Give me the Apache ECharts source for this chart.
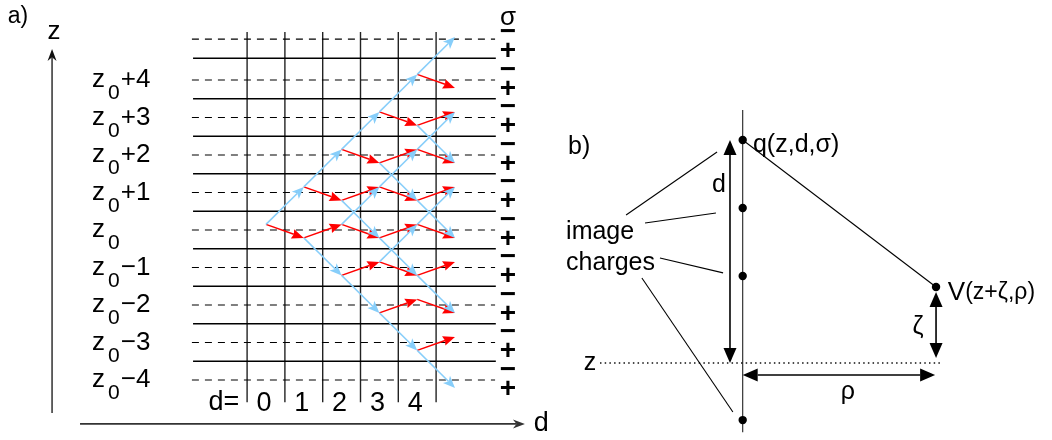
<!DOCTYPE html>
<html>
<head>
<meta charset="utf-8">
<script src="https://cdn.jsdelivr.net/npm/echarts@6/dist/echarts.min.js"></script>
<style>
  html, body { margin: 0; padding: 0; background: #fff; }
  #chart { width: 1052px; height: 440px; }
</style>
</head>
<body>
<div id="chart"></div>
<script>
// ---------------- Panel a: lattice of image charges (d = generation, z = level) ----------------
const dColumns = [0, 1, 2, 3, 4];
const dLabels = ['0', '1', '2', '3', '4'];
const zLevels = [4, 3, 2, 1, 0, -1, -2, -3, -4];
const zLabelSuffix = ['+4', '+3', '+2', '+1', '', '\u22121', '\u22122', '\u22123', '\u22124'];
const sigmaLevels = [5, 4, 3, 2, 1, 0, -1, -2, -3, -4];
const columnBorders = [-0.5, 0.5, 1.5, 2.5, 3.5, 4.5];
const dashedLevels = [5.09, 4, 3, 2, 1, 0, -1, -2, -3, -4];
const solidLevels = [4.58, 3.5, 2.5, 1.5, 0.5, -0.5, -1.5, -2.5, -3.5];

// Transitions [d, z, σ] -> [d, z, σ]; σ = 1 is the upper (−) sub-level, σ = -1 the lower (+) one.
const redSteps = [
  [0, 0, 1, 1, 0, -1],
  [1, 1, 1, 2, 1, -1], [1, 0, -1, 2, 0, 1],
  [2, 2, 1, 3, 2, -1], [2, 1, -1, 3, 1, 1], [2, 0, 1, 3, 0, -1], [2, -1, -1, 3, -1, 1],
  [3, 3, 1, 4, 3, -1], [3, 2, -1, 4, 2, 1], [3, 1, 1, 4, 1, -1], [3, 0, -1, 4, 0, 1],
  [3, -1, 1, 4, -1, -1], [3, -2, -1, 4, -2, 1],
  [4, 4, 1, 5, 4, -1], [4, 3, -1, 5, 3, 1], [4, 2, 1, 5, 2, -1], [4, 1, -1, 5, 1, 1],
  [4, 0, 1, 5, 0, -1], [4, -1, -1, 5, -1, 1], [4, -2, 1, 5, -2, -1], [4, -3, -1, 5, -3, 1]
];
const blueSteps = [
  [0, 0, 1, 1, 1, 1],
  [1, 1, 1, 2, 2, 1], [1, 0, -1, 2, -1, -1],
  [2, 2, 1, 3, 3, 1], [2, 1, -1, 3, 0, -1], [2, 0, 1, 3, 1, 1], [2, -1, -1, 3, -2, -1],
  [3, 3, 1, 4, 4, 1], [3, 2, -1, 4, 1, -1], [3, 1, 1, 4, 2, 1], [3, 0, -1, 4, -1, -1],
  [3, -1, 1, 4, 0, 1], [3, -2, -1, 4, -3, -1],
  [4, 4, 1, 5, 5, 1], [4, 3, -1, 5, 2, -1], [4, 2, 1, 5, 3, 1], [4, 1, -1, 5, 0, -1],
  [4, 0, 1, 5, 1, 1], [4, -1, -1, 5, -2, -1], [4, -3, -1, 5, -4, -1]
];

// ---------------- Panel b: source charge, its images and the field point ----------------
const rodSpan = [11.35, -3.1];
const sourceCharge = [0, 10];
const imageCharges = [[0, 6.95], [0, 3.9], [0, -2.56]];
const fieldPoint = [8.67, 3.41];
const dimensionArrows = [
  [[-0.57, 0], [-0.57, 10]],       // d
  [[8.67, 0.22], [8.67, 3.18]],    // ζ
  [[0, -0.54], [8.63, -0.54]]      // ρ
];
const levelLine = [[-6.4, 0], [8.98, 0]];
const labelLeaders = [
  [[-5.23, 6.64], [-1.15, 9.46]],
  [[-4.38, 6.28], [-1.2, 6.73]],
  [[-3.71, 4.71], [-0.88, 4.04]],
  [[-4.52, 3.81], [-0.44, -2.2]]
];

// ---------------- styling ----------------
const FONT = "'Liberation Sans', Arial, Helvetica, sans-serif";
const RED = '#ff0000';
const BLUE = '#87cefa';
const INK = '#000000';
const SUB_UP = 0.15, SUB_DOWN = -0.21;   // vertical split of the two σ sub-levels
const nodeZ = (z, s) => z + (s > 0 ? SUB_UP : SUB_DOWN);

function headShape(tip, from, o) {
  const dx = tip[0] - from[0], dy = tip[1] - from[1];
  const L = Math.hypot(dx, dy) || 1;
  const ux = dx / L, uy = dy / L, nx = -uy, ny = ux;
  const bx = tip[0] - ux * o.len, by = tip[1] - uy * o.len;
  const nb = o.len * (1 - o.notch);
  return {
    type: 'polygon',
    shape: { points: [tip, [bx + nx * o.half, by + ny * o.half],
                      [tip[0] - ux * nb, tip[1] - uy * nb], [bx - nx * o.half, by - ny * o.half]] },
    style: { fill: o.color, stroke: null }
  };
}

function arrowGroup(api, a, b, o) {
  const p0 = api.coord(a), p1 = api.coord(b);
  const L = Math.hypot(p1[0] - p0[0], p1[1] - p0[1]) || 1;
  const ux = (p1[0] - p0[0]) / L, uy = (p1[1] - p0[1]) / L;
  const back = o.len * (1 - o.notch);
  const e = [p1[0] - ux * back, p1[1] - uy * back];
  const s = o.both ? [p0[0] + ux * back, p0[1] + uy * back] : p0;
  const children = [
    { type: 'line', shape: { x1: s[0], y1: s[1], x2: e[0], y2: e[1] },
      style: { stroke: o.color, lineWidth: o.width, lineCap: 'butt' } },
    headShape(p1, p0, o)
  ];
  if (o.both) children.push(headShape(p0, p1, o));
  return { type: 'group', children };
}

function overlay(axis, items, draw, z) {
  return {
    type: 'custom', coordinateSystem: 'cartesian2d',
    xAxisIndex: axis, yAxisIndex: axis,
    silent: true, animation: false, clip: false, z: z,
    data: items.map((_, i) => [0, 0, i]),
    renderItem: (params, api) => draw(items[params.dataIndex], api)
  };
}

const drawSegment = (it, api) => {
  const p0 = api.coord(it.a), p1 = api.coord(it.b);
  return { type: 'line', shape: { x1: p0[0], y1: p0[1], x2: p1[0], y2: p1[1] },
           style: { stroke: it.color || INK, lineWidth: it.width || 1, lineDash: it.dash || null } };
};
const drawText = (it, api) => {
  const p = api.coord(it.at);
  const style = {
    text: it.text, fill: INK, font: (it.weight || 'normal') + ' ' + (it.size || 25) + 'px ' + FONT,
    align: it.align || 'center', verticalAlign: 'middle'
  };
  if (it.rich) style.rich = it.rich;
  return { type: 'text', x: p[0] + (it.dx || 0), y: p[1] + (it.dy || 0), style };
};
const drawDot = (it, api) => {
  const p = api.coord(it);
  return { type: 'circle', shape: { cx: p[0], cy: p[1], r: 4.2 }, style: { fill: INK } };
};

// ---------------- panel a items ----------------
const latticeLines = [];
columnBorders.forEach(d => latticeLines.push({ a: [d, 5.28], b: [d, -4.59], color: '#222', width: 1.4 }));
solidLevels.forEach(z => latticeLines.push({ a: [-1.93, z], b: [6.08, z], width: 1.3 }));
dashedLevels.forEach(z => latticeLines.push({ a: [-1.96, z], b: [6.06, z], width: 1.2, dash: [7, 6] }));

const toNodes = s => ({ a: [s[0], nodeZ(s[1], s[2])], b: [s[3], nodeZ(s[4], s[5])] });
const redArrows = redSteps.map(toNodes);
const blueArrows = blueSteps.map(toNodes);

const axisArrows = [
  { a: [-5.66, -4.88], b: [-5.66, 4.83], width: 1.3, color: '#111' },
  { a: [-4.92, -5.17], b: [6.85, -5.17], width: 1.8, color: '#333' }
];

const richLabel = {
  m: { fontSize: 26, fontFamily: FONT, lineHeight: 48, verticalAlign: 'middle', fill: INK },
  s: { fontSize: 21, fontFamily: FONT, lineHeight: 20, verticalAlign: 'bottom', fill: INK, padding: [0, 1, 0, 3] }
};
const panelATexts = [
  { at: [-6.83, 5.68], text: 'a)', align: 'left', size: 23 },
  { at: [-5.61, 5.28], text: 'z', size: 26 },
  { at: [7.28, -5.15], text: 'd', size: 27 },
  { at: [6.4, 5.65], text: '\u03c3', size: 26 },
  { at: [-0.71, -4.61], text: 'd=', align: 'right', size: 27 }
];
dColumns.forEach((d, i) => panelATexts.push({ at: [d, -4.63], text: dLabels[i], size: 27, dx: -2 }));
zLevels.forEach((z, i) => panelATexts.push({
  at: [-4.6, z], text: '{m|z}{s|0}' + (zLabelSuffix[i] ? '{m|' + zLabelSuffix[i] + '}' : ''),
  align: 'left', rich: richLabel
}));
sigmaLevels.forEach(z => {
  panelATexts.push({ at: [6.4, z + 0.27], text: '\u2212', size: 28, weight: 'bold' });
  panelATexts.push({ at: [6.4, z - 0.24], text: '+', size: 28, weight: 'bold' });
});

// ---------------- panel b items ----------------
const panelBLines = [
  { a: [0, rodSpan[0]], b: [0, rodSpan[1]], width: 1.1, color: '#222' },
  { a: sourceCharge, b: fieldPoint, width: 1.1 },
  { a: levelLine[0], b: levelLine[1], width: 1.5, dash: [1.5, 3.2], color: '#111' }
].concat(labelLeaders.map(l => ({ a: l[0], b: l[1], width: 1.1 })));

const panelBArrows = dimensionArrows.map(d => ({ a: d[0], b: d[1] }));
const panelBDots = [sourceCharge].concat(imageCharges, [fieldPoint]);
const panelBTexts = [
  { at: [-7.83, 9.69], text: 'b)', align: 'left' },
  { at: [0.46, 9.78], text: 'q(z,d,\u03c3)', align: 'left' },
  { at: [9.2, 3.14], text: '{v|V}{r|(z+\u03b6,\u03c1)}', align: 'left',
    rich: { v: { fontSize: 26, fontFamily: FONT, fill: INK }, r: { fontSize: 23, fontFamily: FONT, fill: INK } } },
  { at: [-7.92, 5.87], text: 'image', align: 'left' },
  { at: [-7.92, 4.48], text: 'charges', align: 'left' },
  { at: [-1.06, 7.98], text: 'd' },
  { at: [-6.85, 0], text: 'z' },
  { at: [7.86, 1.61], text: '\u03b6' },
  { at: [4.72, -1.3], text: '\u03c1' }
];

// ---------------- chart ----------------
const hidden = { show: false, splitLine: { show: false } };
const chart = echarts.init(document.getElementById('chart'), null, { renderer: 'canvas' });
chart.setOption({
  backgroundColor: '#ffffff',
  animation: false,
  grid: [
    { left: 39.2, top: 5, width: 529.2, height: 431.25 },     // panel a: 37.8 px per d, 37.5 px per z
    { left: 519.7, top: 6.2, width: 512.9, height: 423.7 }    // panel b: 22.3 px per unit
  ],
  xAxis: [
    Object.assign({ type: 'value', gridIndex: 0, min: -6, max: 8 }, hidden),
    Object.assign({ type: 'value', gridIndex: 1, min: -10, max: 13 }, hidden)
  ],
  yAxis: [
    Object.assign({ type: 'value', gridIndex: 0, min: -5.5, max: 6 }, hidden),
    Object.assign({ type: 'value', gridIndex: 1, min: -3, max: 16 }, hidden)
  ],
  series: [
    overlay(0, latticeLines, drawSegment, 1),
    overlay(0, redArrows, (it, api) => arrowGroup(api, it.a, it.b,
      { color: RED, width: 1.5, len: 12, half: 5, notch: 0.12 }), 3),
    overlay(0, blueArrows, (it, api) => arrowGroup(api, it.a, it.b,
      { color: BLUE, width: 1.5, len: 12, half: 5, notch: 0.25 }), 4),
    overlay(0, axisArrows, (it, api) => arrowGroup(api, it.a, it.b,
      { color: it.color, width: it.width, len: 12, half: 4.5, notch: 0.3 }), 5),
    overlay(0, panelATexts, drawText, 6),
    overlay(1, panelBLines, drawSegment, 1),
    overlay(1, panelBArrows, (it, api) => arrowGroup(api, it.a, it.b,
      { color: INK, width: 1.6, len: 15, half: 6.5, notch: 0, both: true }), 3),
    overlay(1, panelBDots, drawDot, 4),
    overlay(1, panelBTexts, drawText, 6)
  ]
});
</script>
</body>
</html>
